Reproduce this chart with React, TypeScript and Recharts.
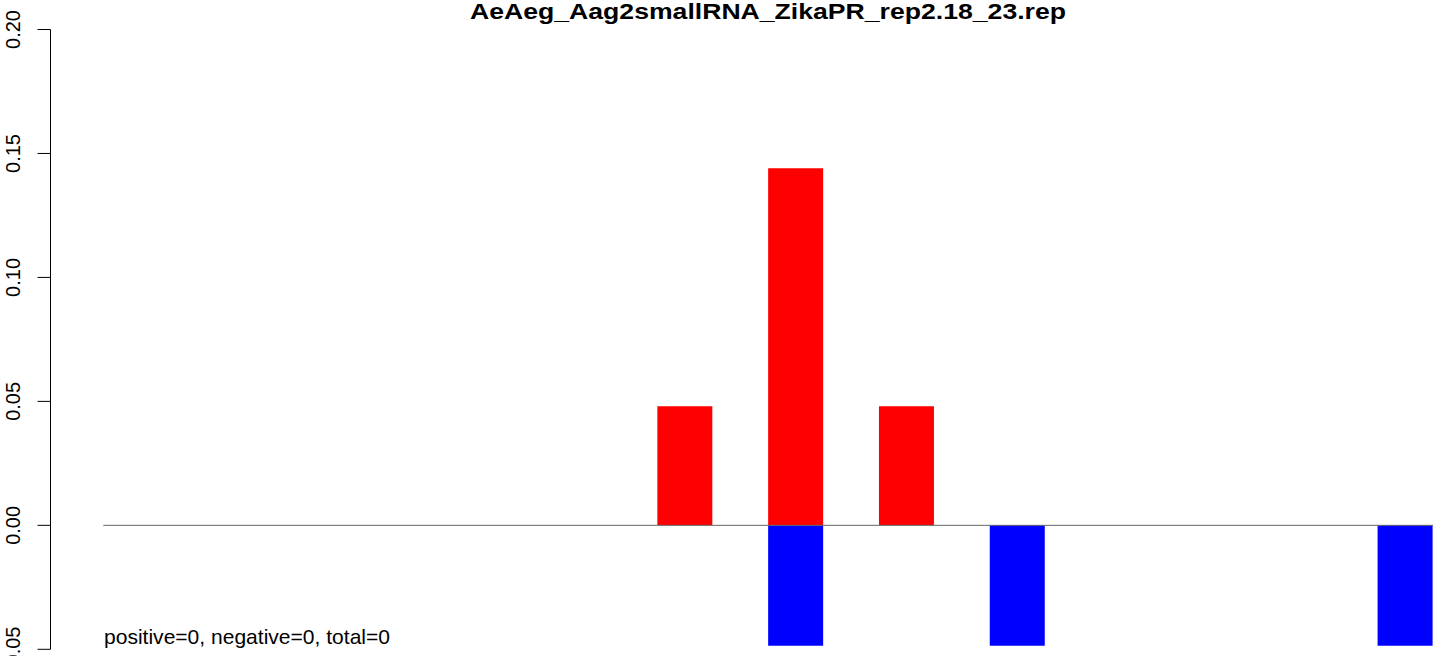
import { Bar, BarChart, ReferenceLine, XAxis, YAxis } from "recharts"

// positions along the window (1-based), sense (red) and antisense (blue) values
const positions = [1, 2, 3, 4, 5, 6, 7, 8, 9, 10, 11, 12, 13, 14, 15, 16, 17, 18, 19, 20, 21, 22, 23, 24]
const senseValues = [0, 0, 0, 0, 0, 0, 0, 0, 0, 0, 0.048, 0, 0.144, 0, 0.048, 0, 0, 0, 0, 0, 0, 0, 0, 0]
const antisenseValues = [0, 0, 0, 0, 0, 0, 0, 0, 0, 0, 0, 0, -0.0486, 0, 0, 0, -0.0486, 0, 0, 0, 0, 0, 0, -0.0486]
const yTicks = [-0.05, 0, 0.05, 0.1, 0.15, 0.2]

const title = "AeAeg_Aag2smallRNA_ZikaPR_rep2.18_23.rep"
const footnote = "positive=0, negative=0, total=0"

const font = "'Liberation Sans', Arial, Helvetica, sans-serif"

const data = positions.map((pos, i) => ({
  pos,
  sense: senseValues[i],
  antisense: antisenseValues[i],
}))

function YTick(props: any) {
  const { x, y, payload } = props
  const bx = x - 15.5
  return (
    <text
      x={bx}
      y={y}
      transform={`rotate(-90, ${bx}, ${y})`}
      textAnchor="middle"
      fontSize={20}
      fontFamily={font}
      fill="#000"
    >
      {Number(payload.value).toFixed(2)}
    </text>
  )
}

export default function App() {
  return (
    <div style={{ position: "absolute", left: 0, top: 0, width: 1444, height: 656, background: "#fff" }}>
      <BarChart
        width={1444}
        height={656}
        data={data}
        stackOffset="sign"
        barCategoryGap={0}
        barGap={0}
        margin={{ top: 29.5, right: 11, bottom: 6.7, left: 0 }}
      >
        <XAxis
          dataKey="pos"
          type="number"
          domain={[0.5, 24.5]}
          padding={{ left: 52.8, right: 0 }}
          allowDataOverflow
          hide
        />
        <YAxis
          width={50.5}
          domain={[-0.05, 0.2]}
          ticks={yTicks}
          interval={0}
          tickSize={13}
          tickMargin={2}
          tick={<YTick />}
          axisLine={{ stroke: "#000", strokeWidth: 1 }}
          tickLine={{ stroke: "#000", strokeWidth: 1 }}
        />
        <ReferenceLine
          segment={[
            { x: 0.5, y: 0 },
            { x: 24.5, y: 0 },
          ]}
          stroke="#666666"
          strokeWidth={1}
        />
        <Bar dataKey="sense" stackId="s" fill="#ff0000" isAnimationActive={false} />
        <Bar dataKey="antisense" stackId="s" fill="#0000ff" isAnimationActive={false} />
      </BarChart>
      <svg
        width={1444}
        height={656}
        style={{ position: "absolute", left: 0, top: 0, pointerEvents: "none" }}
      >
        <text
          x={768}
          y={19}
          textAnchor="middle"
          fontFamily={font}
          fontWeight="bold"
          fontSize={22.5}
          textLength={596}
          lengthAdjust="spacingAndGlyphs"
          fill="#000"
        >
          {title}
        </text>
        <text
          x={104}
          y={644}
          fontFamily={font}
          fontSize={21}
          textLength={286}
          lengthAdjust="spacingAndGlyphs"
          fill="#000"
        >
          {footnote}
        </text>
      </svg>
    </div>
  )
}
